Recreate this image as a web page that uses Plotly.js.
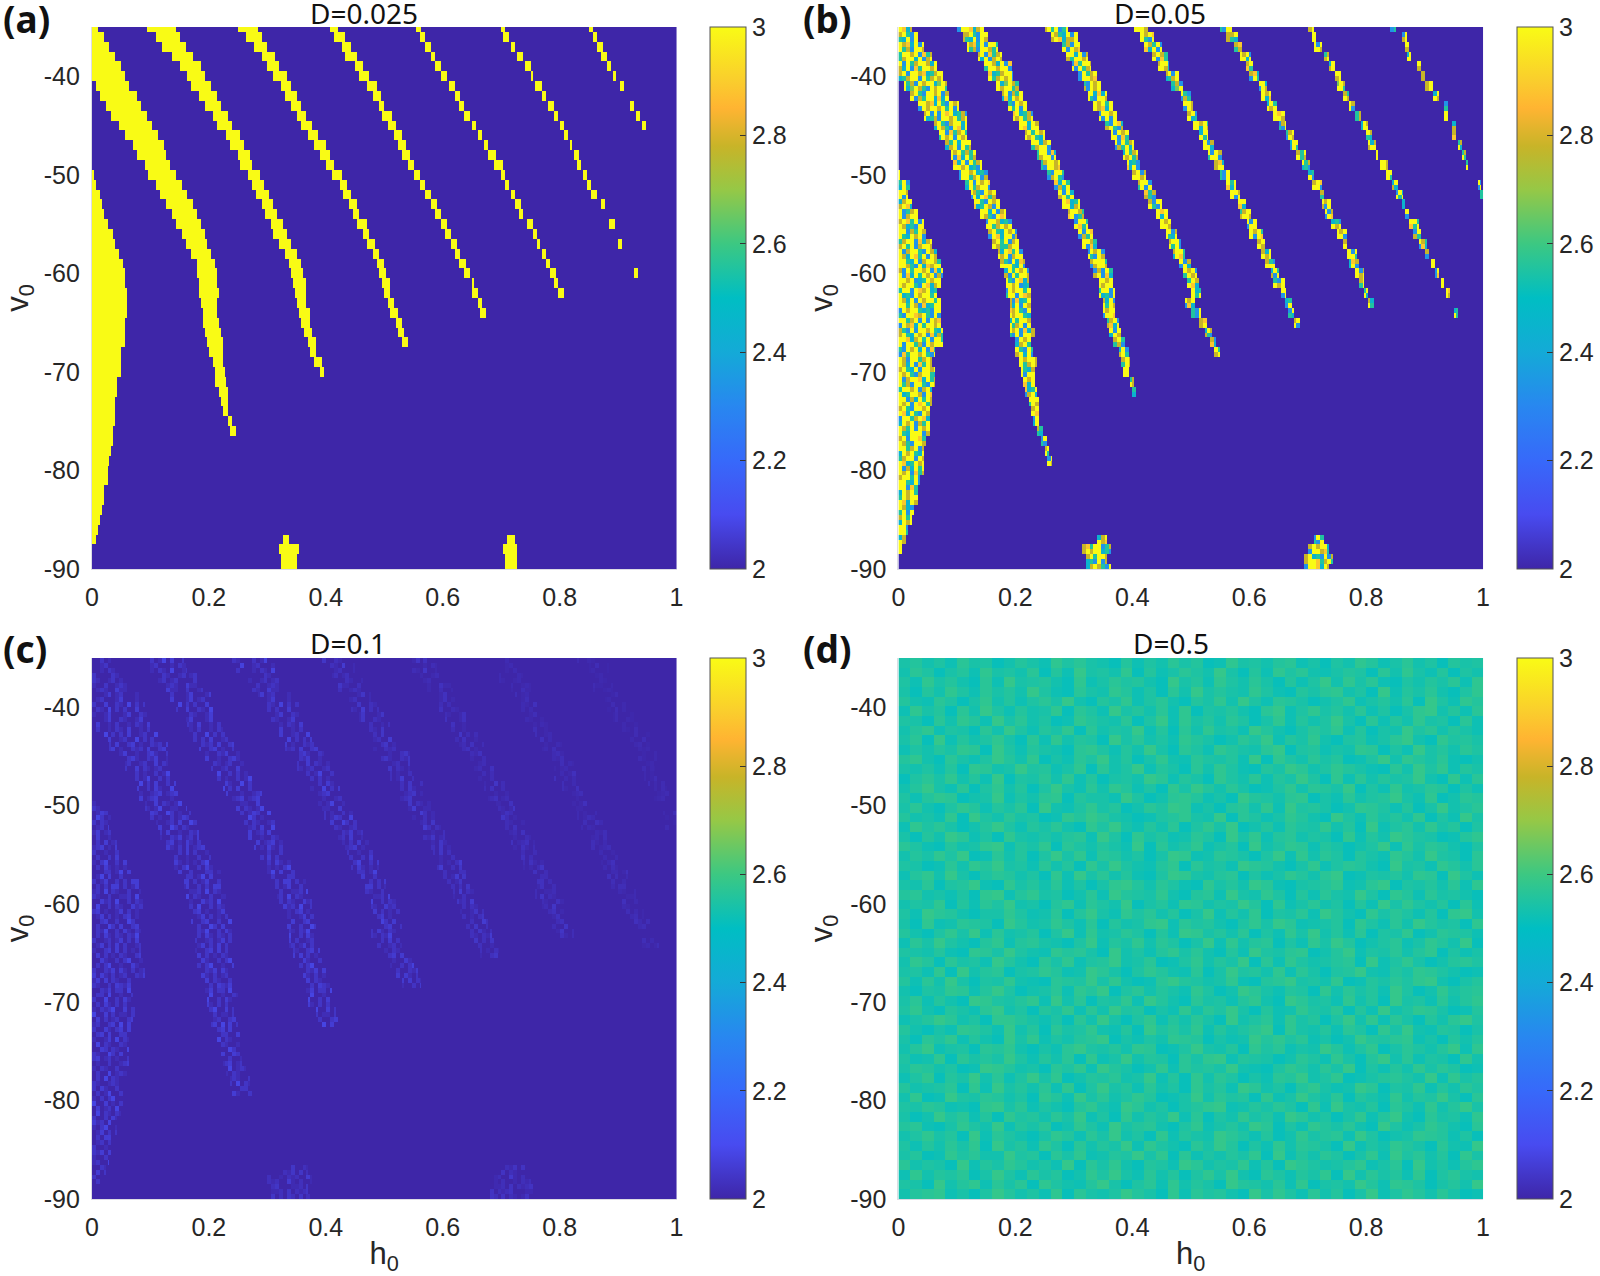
<!DOCTYPE html>
<html>
<head>
<meta charset="utf-8">
<title>v0 / h0 maps for four noise levels</title>
<script src="https://cdn.plot.ly/plotly-3.0.1.min.js"></script>
<style>
  html, body { margin: 0; padding: 0; background: #ffffff; }
  #chart { width: 1600px; height: 1276px; }
</style>
</head>
<body>
<div id="chart"></div>
<script>
// Tick labels and panel text
const hTicks = [0, 0.2, 0.4, 0.6, 0.8, 1];
const hTickText = ["0", "0.2", "0.4", "0.6", "0.8", "1"];
const vTicks = [-40, -50, -60, -70, -80, -90];
const vTickText = ["-40", "-50", "-60", "-70", "-80", "-90"];
const barTicks = [2, 2.2, 2.4, 2.6, 2.8, 3];
const panelTitles = ["D=0.025", "D=0.05", "D=0.1", "D=0.5"];
const panelLetters = ["(a)", "(b)", "(c)", "(d)"];

// Band edges in h0, one entry per integer v0 going down from the start row
const a0Right = [.003,.006,.011,.014,.019,.026,.034,.039,.045,.052,.056,.056,.058,.058,.059,.056,.056,.055,.049,.049,.047,.043,.042,.039,.039,.038,.035,.034,.031,.028,.026,.024,.019,.017,.014,.011,.008,.004];
const a1Left = [0,0,0,0,0,0,.007,.015,.025,.036,.047,.058,.071,.079,.091,.099,.11,.119,.129,.139,.145,.155,.163,.172,.18,.182,.185,.186,.189,.19,.193,.196,.199,.203,.207,.21,.213,.219,.223,.226,.235,.239];
const a1Right = [.009,.017,.028,.039,.048,.056,.062,.074,.082,.091,.102,.11,.122,.125,.133,.142,.153,.162,.17,.179,.185,.19,.196,.202,.207,.21,.213,.214,.213,.213,.216,.219,.22,.222,.223,.226,.229,.23,.231,.233,.239,.245];
const a2Left = [.096,.11,.122,.139,.153,.165,.173,.185,.196,.207,.216,.23,.239,.25,.256,.267,.276,.281,.29,.299,.307,.313,.321,.33,.338,.341,.344,.347,.353,.356,.358,.366,.37,.375,.381,.39];
const a2Right = [.142,.148,.159,.173,.185,.193,.202,.213,.219,.23,.239,.25,.259,.267,.273,.285,.293,.301,.307,.316,.324,.33,.338,.347,.356,.358,.364,.364,.364,.37,.373,.375,.381,.381,.39,.394];
const a3Left = [.253,.264,.279,.29,.301,.313,.324,.333,.341,.35,.358,.373,.381,.393,.401,.413,.424,.432,.441,.447,.455,.464,.472,.481,.487,.492,.498,.501,.507,.512,.521,.524,.532];
const a3Right = [.281,.287,.299,.313,.319,.33,.338,.347,.356,.364,.375,.384,.398,.404,.413,.424,.435,.441,.45,.455,.467,.472,.481,.489,.498,.501,.507,.509,.515,.521,.527,.53,.538];
const a4Left = [.407,.415,.427,.435,.45,.458,.473,.482,.49,.498,.507,.518,.525,.532,.541,.552,.561,.571,.581,.589,.599,.606,.615,.623,.629,.638,.65,.652,.661,.666];
const a4Right = [.418,.43,.441,.452,.461,.47,.484,.492,.498,.51,.518,.527,.535,.541,.549,.558,.57,.578,.589,.596,.606,.612,.622,.629,.638,.646,.653,.658,.666,.67];
const a5Left = [.555,.562,.572,.581,.589,.598,.612,.621,.627,.638,.65,.661,.671,.678,.689,.7,.707,.717,.725,.732,.746,.756,.762,.77,.777,.785,.791,.797];
const a5Right = [.561,.57,.579,.586,.595,.605,.618,.629,.635,.646,.656,.666,.676,.689,.7,.704,.713,.723,.732,.736,.752,.759,.766,.775,.78,.79,.795,.804];
const a6Left = [.7,.706,.717,.729,.743,.75,.757,.773,.783,.792,.801,.809,.817,.826,.832,.841,.847,.856,.871,null,.886,null,.9];
const a6Right = [.704,.71,.722,.736,.749,.753,.769,.776,.789,.794,.805,.811,.82,.832,.836,.845,.851,.86,.874,null,.89,null,.904];
const a7Left = [.85,.857,.866,.873,.881,.89,.905,null,.92,.93,.94];
const a7Right = [.854,.86,.871,.877,.886,.895,.909,null,.924,.935,.944];
const a8Left = [.927];
const a8Right = [.932];
const aBlob1Left = [.327,.322,.325,.325];
const aBlob1Right = [.335,.35,.348,.348];
const aBlob2Left = [.711,.706,.708,.708];
const aBlob2Right = [.72,.725,.724,.724];

const b0Right = [.003,.018,.015,.02,.03,.04,.045,.055,.065,.07,.075,.07,.065,.07,.07,.07,.075,.075,.06,.055,.06,.06,.055,.055,.05,.05,.05,.045,.04,.04,.04,.035,.03,.03,.025,.02,.015,.01,.004];
const b1Left = [0,0,0,0,0,0,.01,.022,.035,.045,.06,.07,.08,.09,.095,.105,.115,.125,.13,.14,.15,.155,.16,.17,.175,.18,.185,.185,.19,.19,.19,.193,.2,.2,.207,.212,.215,.218,.224,.227,.232,.238,.244,.25,.254];
const b1Right = [.02,.03,.04,.055,.065,.075,.08,.085,.1,.115,.115,.115,.12,.13,.14,.15,.155,.165,.17,.18,.19,.2,.205,.21,.215,.22,.22,.225,.225,.225,.224,.23,.224,.227,.235,.23,.23,.235,.238,.238,.238,.244,.25,.255,.26];
const b2Left = [.101,.11,.119,.138,.147,.156,.167,.178,.187,.198,.207,.218,.227,.238,.244,.255,.267,.275,.281,.292,.301,.309,.315,.326,.329,.335,.344,.346,.352,.352,.358,.361,.369,.378,.381,.385,.397,.4];
const b2Right = [.144,.15,.167,.175,.19,.195,.204,.21,.218,.229,.238,.247,.258,.267,.275,.281,.292,.298,.307,.315,.321,.332,.338,.352,.355,.364,.366,.369,.369,.369,.375,.378,.386,.392,.395,.392,.403,.405];
const b3Left = [.252,.261,.281,.287,.298,.309,.318,.326,.335,.344,.355,.364,.372,.386,.392,.401,.412,.421,.429,.441,.449,.458,.466,.472,.48,.489,.495,.5,.49,.5,.515,.525,.535,.542];
const b3Right = [.287,.304,.307,.321,.327,.338,.344,.355,.364,.372,.383,.392,.401,.409,.412,.421,.432,.438,.449,.458,.466,.475,.48,.489,.497,.509,.512,.515,.505,.515,.525,.535,.543,.548];
const b4Left = [.406,.415,.423,.435,.446,.458,.469,.486,.489,.495,.506,.515,.523,.532,.54,.552,.56,.569,.58,.586,.597,.603,.614,.62,.629,.637,.643,.654,.66,.668,.678];
const b4Right = [.426,.435,.449,.458,.463,.477,.486,.497,.5,.509,.529,.529,.537,.552,.554,.566,.574,.583,.591,.6,.611,.62,.626,.634,.64,.648,.657,.663,.671,.674,.684];
const b5Left = [.552,.56,.575,.586,.594,.603,.617,.623,.631,.64,.651,.666,.671,.683,.691,.703,.708,.72,.725,.731,.74,.751,.76,.768,.771,.782,.789,.797,.806];
const b5Right = [.569,.577,.586,.603,.606,.614,.628,.634,.646,.657,.66,.674,.68,.694,.7,.708,.72,.725,.737,.742,.754,.765,.765,.78,.785,.794,.794,.8,.81];
const b6Left = [.703,.707,.711,.729,.737,.748,.751,.762,.771,.782,.791,.802,.805,.817,.826,.834,.844,.851,.862,.868,.876,.882,.893,.9,.912,.917,.927,.937,null,.952];
const b6Right = [.707,.712,.723,.735,.745,.754,.76,.768,.779,.788,.8,.808,.814,.82,.834,.84,.85,.86,.866,.872,.888,.893,.902,.904,.915,.92,.93,.94,null,.955];
const b7Left = [.843,.863,.868,.87,.889,.895,.903,.915,.934,.935,.948,.947,.957,.965,.97,null,.991,.995];
const b7Right = [.848,.868,.873,.875,.893,.899,.912,.92,.938,.939,.952,.95,.961,.968,.973,null,.994,.999];
const bBlob1Left = [.34,.315,.32,.32];
const bBlob1Right = [.355,.362,.355,.36];
const bBlob2Left = [.71,.7,.695,.695];
const bBlob2Right = [.725,.735,.74,.735];

// Colour mix seen inside the noisy bands of (b), digit d means 2 + d/9
const bSpeckle = [
  "99795399847959359","79539975493979847","97849399573997593","59979385799493797",
  "93957997493859979","79399784579939579","99573979946975397","84979539979375994",
  "79593997849539799","39979579393989457","97539849979537994","59793979549938579",
  "99479395799375949","75993849579939795","39579979453997849","97945399579379539",
  "59397984957993749","99753979394985795","47995397984597399","93579949379975398",
  "79859399745399579","99375979549793984","57993847959379975","93799539749859397",
  "99549379975394879","73959979384959793","99793459799539847","59939879453979959",
  "97493979959738459","39799545399879539","99579393978495997","75393997954979384",
  "99847959399573979","53979493859979539","97399579749385979","79549399795379954",
  "93799849573995397","59979379459973984","99374959793989579","79539979849539799",
  "39957984979375993","97593979549993784","79399859753997495","99579374979549398",
  "57993979845979539","93749599793857997","79959379954937598","99385794979539974",
  "59799539849793979","97439975939589799","79593984979745399","99379579953984797",
  "47993959789539979","93579799453997859","99794539379985795","75399849795939479"
];
// Faint bands of (c), digit 1 is background, each digit above it adds 0.02
const cSpeckle = [
  "1132111312514","1123111213215","3111132112312","2113112321142","1112412311124","3114113215131",
  "2112411124113","1411213112132","3115131314112","1132314113412","1342113241121","3114132123112",
  "2113125113131","1314113142115","1123412341112","2114132125112","1243115312113","3132112314115",
  "2412314112113","1314123412142","3112113113141","2135113142121","1113312514113","3124113131441",
  "2315132113112","1142315113132","3412112413121","1134113115314","1325113142132","3112312413141",
  "2113414131213","1142113135112","3113241421312","2414132113143","1132413315112","3115113142131",
  "2132351141312","1413123113415","3114213414113","2112415132113","1143132115314","3412312113112",
  "2132113115123","1315132112321","3142113125113","2131351141213","1412315132132","3113142315114",
  "2135112413131","1314412313142","3112132414113","2113123115312","1132414132114","3115213112132",
  "2314132341112","1413212413143"
];
// How strong each band of bandsB still is in (c)
const cBandStrength = [1, 1, 1, 0.9, 0.7, 0.5, 0.35, 0.25, 0.7, 0.6];
// Estimated mottling of (d), digit d means 2.505 + 0.009 d
const dField = [
  "46352745136428574316253746128453672415386247351645","37514628453716294538162475394162857324651738426153",
  "52846317294563182475631946285374162593847215364728","41638527463952174386251739464385216478351926473158",
  "63275148362574931648257316483952764135824637195286","28461739526348175294637281546317925846372514893627",
  "54173862947351286437159284637514826359417263845172","36825417395264817354926173845296314758261439573642",
  "47192635841728365194735286413759264831562479318564",
  "25364871952643178526394175286437915624387152946375","68317425963814275936148327546291853746125938647213",
  "43526187349562481735926417385216497358642173958264","15748362915473826145397264185372649518273645931827",
  "36942715836159427386251849637412583764915283476152","52687134925378164429513786241965378142735694281376",
  "47315862647193258461375982416738295641387526149357","63428195374512869743125684391752486319527463815294",
  "28574136952647318594263715849136275483619257384615","41639725184353672951846237519482673541826397541268",
  "75216348926481753642917358246193587264135928476315","36485912736159482763514982376415928375164286395417",
  "54127386945273618495326817452976314825763194528637","26839415763518294736215984367152486379125463871952",
  "43715692184637251489637521846397214568237915463728","67342518926845137296548316729438516274395186274531",
  "35481627593416827539146287354961824735162948536172","52976314485237169428573614926381547296318475261893",
  "41823765196348527163489275631584972346185273964518","63158492734615928347516298463715284936271548137652",
  "27495316826743159264837514928367152849613572486391","54362187495328674193526847316295478136925473681524",
  "38617452963174825693471258364917285346719258413675","45281936714586239741586327149563827415693264875312",
  "62739415483217659483127965348216794538126475893146","31548726951347286915736428513974265183746295138467",
  "47263198546829371548296317452683197452836194527368","58316427935164827395614283759416238547162935874126",
  "24697351886425173941582637419357284615938274163795","63142875293617458326195748263579184362751849326514",
  "41758263194825367914253876142396857241396578241636","36924517683142795463871259436185724396258147536928",
  "52381746495263718249365174892654137528416937254183","47635129863417582964138275649321586374915263847512",
  "25816493725948136573492618375142769358124675392846","63457182946372815946273518462973516842397154826375",
  "38129547635186294735861249375618249537164283659417","54762318947253168429735146892364751829436175283694",
  "41395726185637492518364927153846297351482693174528","67214853926471385294673158246397152864731952486317",
  "35846192753148627493518264397526138467295134876251","52637481946285173649285317496152837641925386417329",
  "46128573395617482365948172536481926375148295736184","73541926486352917483165297354826197534682471935268",
  "28365714952746138594273615849317526481937462815743","54193682747185326941572836419653728145396287514639",
  "36782415963528174359641827563194852736149258637412"
];

// Old MATLAB parula, matched to the colour bar
const parula = [
  [0, "rgb(62,38,168)"], [0.1, "rgb(72,75,240)"], [0.2, "rgb(55,105,250)"], [0.3, "rgb(40,135,240)"],
  [0.4, "rgb(20,170,215)"], [0.5, "rgb(0,190,195)"], [0.6, "rgb(60,200,130)"], [0.7, "rgb(150,200,70)"],
  [0.78, "rgb(200,180,40)"], [0.85, "rgb(255,180,50)"], [0.9, "rgb(250,205,45)"], [1, "rgb(249,251,21)"]
];

// Each integer v0 row is split in two so the speckle is finer than the edge readings
const COLS = 300;
const ROWS = 112;
const hGrid = Array.from({ length: COLS }, (_, i) => (i + 0.5) / COLS);
const vGrid = Array.from({ length: ROWS }, (_, i) => -34.75 - i * 0.5);

function emptyGrid(value) {
  return vGrid.map(() => hGrid.map(() => value));
}

// Fill one band row by row, left == null means it starts at h0 = 0
function paintBand(z, top, left, right, cellValue, spread = 0) {
  right.forEach((edge, i) => {
    if (edge === null) return;
    const row = 2 * (-35 - top + i);
    const from = Math.max(0, Math.floor(((left ? left[i] : 0) - spread) * COLS));
    const to = Math.min(COLS - 1, Math.max(from, Math.floor((edge + spread) * COLS)));
    for (let sub = 0; sub < 2; sub++) {
      if (row + sub >= ROWS) continue;
      for (let col = from; col <= to; col++) {
        z[row + sub][col] = cellValue(row + sub, col);
      }
    }
  });
}

const bValue = (row, col) => {
  const line = bSpeckle[row >> 1];
  return 2 + Number(line[(Math.floor(col / 2) + 7 * (row & 1)) % line.length]) / 9;
};
const cValue = (row, col, strength) => {
  const line = cSpeckle[row >> 1];
  return 2 + strength * (Number(line[(Math.floor(col / 2) + 5 * (row & 1)) % line.length]) - 1) / 50;
};

const zA = emptyGrid(2);
[[-50, null, a0Right], [-35, a1Left, a1Right], [-35, a2Left, a2Right], [-35, a3Left, a3Right],
 [-35, a4Left, a4Right], [-35, a5Left, a5Right], [-35, a6Left, a6Right], [-35, a7Left, a7Right],
 [-60, a8Left, a8Right], [-87, aBlob1Left, aBlob1Right], [-87, aBlob2Left, aBlob2Right]
].forEach(([top, l, r]) => paintBand(zA, top, l, r, () => 3));

const bandsB = [[-50, null, b0Right], [-35, b1Left, b1Right], [-35, b2Left, b2Right], [-35, b3Left, b3Right],
  [-35, b4Left, b4Right], [-35, b5Left, b5Right], [-35, b6Left, b6Right], [-35, b7Left, b7Right],
  [-87, bBlob1Left, bBlob1Right], [-87, bBlob2Left, bBlob2Right]];

const zB = emptyGrid(2);
bandsB.forEach(([top, l, r]) => paintBand(zB, top, l, r, bValue));

// (c) shows the same ridges as (b), weaker and a bit wider
const cSpread = 0.012;
const zC = emptyGrid(2);
bandsB.forEach(([top, l, r], i) => {
  paintBand(zC, top, l, r, (row, col) => cValue(row, col, cBandStrength[i]), cSpread);
});

const dRows = dField.map(line => line.split("").map(d => 2.505 + 0.009 * Number(d)));
const dH = dRows[0].map((_, i) => (i + 0.5) / dRows[0].length);
const dV = dRows.map((_, i) => -35 - (i + 0.5) * 55 / dRows.length);

// Pixel boxes of the four panels
const W = 1600;
const H = 1276;
const panelBoxes = [[92, 677, 27, 569], [899, 1484, 27, 569], [92, 677, 658, 1199], [899, 1484, 658, 1199]];
const letterPos = [[1, 19], [802, 19], [1, 648], [802, 648]];
const titleX = [364, 1161, 348, 1172];
const titleY = [13, 13, 643, 643];
const textColor = "#262626";
const tickFont = { family: "Liberation Sans, Arial, sans-serif", size: 25, color: textColor };
const labelFont = { family: "Liberation Sans, Arial, sans-serif", size: 31, color: textColor };

const panelX = [hGrid, hGrid, hGrid, dH];
const panelY = [vGrid, vGrid, vGrid, dV];
const panelZ = [zA, zB, zC, dRows];

const traces = [];
const layout = {
  width: W,
  height: H,
  margin: { l: 0, r: 0, t: 0, b: 0 },
  paper_bgcolor: "#ffffff",
  plot_bgcolor: "#ffffff",
  showlegend: false,
  annotations: []
};

panelBoxes.forEach((box, i) => {
  const [x0, x1, y0, y1] = box;
  const suffix = i === 0 ? "" : String(i + 1);
  traces.push({
    type: "heatmap",
    x: panelX[i],
    y: panelY[i],
    z: panelZ[i],
    xaxis: "x" + suffix,
    yaxis: "y" + suffix,
    zmin: 2,
    zmax: 3,
    colorscale: parula,
    hoverinfo: "skip",
    colorbar: {
      x: (x1 + 33) / W,
      xanchor: "left",
      y: 1 - y0 / H,
      yanchor: "top",
      len: (y1 - y0) / H,
      lenmode: "fraction",
      thickness: 36,
      thicknessmode: "pixels",
      xpad: 0,
      ypad: 0,
      outlinecolor: "#555555",
      outlinewidth: 1,
      tickmode: "array",
      tickvals: barTicks,
      ticktext: barTicks.map(String),
      ticks: "inside",
      ticklen: 6,
      tickcolor: "#333333",
      tickfont: tickFont
    }
  });
  layout["xaxis" + suffix] = {
    domain: [x0 / W, x1 / W],
    range: [0, 1],
    anchor: "y" + suffix,
    tickmode: "array",
    tickvals: hTicks,
    ticktext: hTickText,
    ticks: "",
    tickfont: tickFont,
    showgrid: false,
    zeroline: false,
    showline: true,
    linecolor: "#dcdce4",
    ticklabelstandoff: 6,
    title: i > 1 ? { text: "h<sub>0</sub>", font: labelFont, standoff: 2 } : { text: "" }
  };
  layout["yaxis" + suffix] = {
    domain: [1 - y1 / H, 1 - y0 / H],
    range: [-90, -35],
    anchor: "x" + suffix,
    tickmode: "array",
    tickvals: vTicks,
    ticktext: vTickText,
    ticks: "",
    tickfont: tickFont,
    showgrid: false,
    zeroline: false,
    showline: true,
    linecolor: "#dcdce4",
    ticklabelstandoff: 6,
    title: { text: "v<sub>0</sub>", font: labelFont, standoff: 8 }
  };
  layout.annotations.push({
    text: panelTitles[i],
    xref: "paper", yref: "paper",
    x: titleX[i] / W,
    y: 1 - titleY[i] / H,
    xanchor: "center", yanchor: "middle",
    showarrow: false,
    font: { family: "Noto Sans, sans-serif", size: 28, color: "#111111" }
  });
  layout.annotations.push({
    text: "<b>" + panelLetters[i] + "</b>",
    xref: "paper", yref: "paper",
    x: letterPos[i][0] / W,
    y: 1 - letterPos[i][1] / H,
    xanchor: "left", yanchor: "middle",
    showarrow: false,
    font: { family: "Noto Sans, sans-serif", size: 37, color: "#111111" }
  });
});

Plotly.newPlot("chart", traces, layout, { displayModeBar: false, responsive: false });
</script>
</body>
</html>
